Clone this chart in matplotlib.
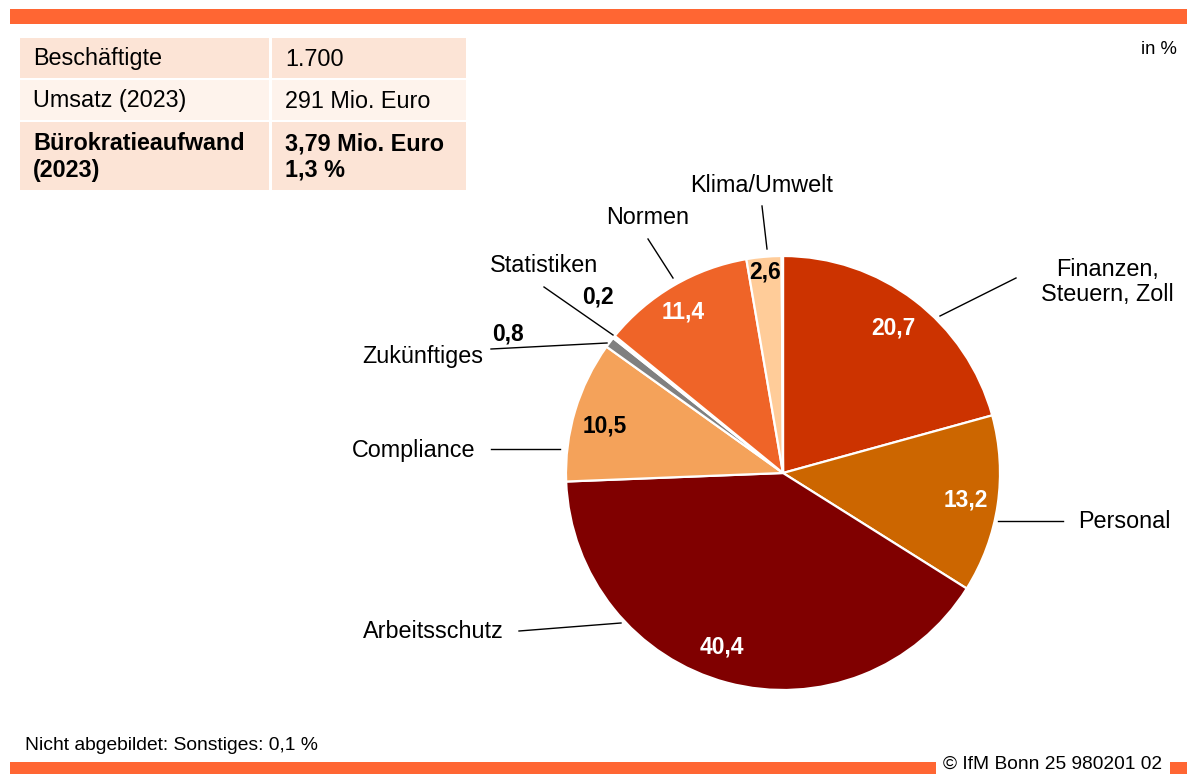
import numpy as np
import matplotlib as mpl
mpl.use('Agg')
import matplotlib.pyplot as plt
from matplotlib.patches import Rectangle

plt.rcParams['font.family'] = ['Liberation Sans', 'DejaVu Sans']

W, H = 1187, 774
ORANGE = '#FF6633'

# shares in %, clockwise from 12 o'clock (Sonstiges is not shown)
categories = ['Finanzen,\nSteuern, Zoll', 'Personal', 'Arbeitsschutz', 'Compliance',
              'Zukünftiges', 'Statistiken', 'Normen', 'Klima/Umwelt', 'Sonstiges']
shares = [20.7, 13.2, 40.4, 10.5, 0.8, 0.2, 11.4, 2.6, 0.1]
value_labels = ['20,7', '13,2', '40,4', '10,5', '0,8', '0,2', '11,4', '2,6', '']
colors = ['#CC3300', '#CC6600', '#800000', '#F4A25A', '#808080',
          '#FFFFFF', '#EF6428', '#FFCC99', '#FFFFFF']

table_keys = ['Beschäftigte', 'Umsatz (2023)', 'Bürokratieaufwand\n(2023)']
table_vals = ['1.700', '291 Mio. Euro', '3,79 Mio. Euro\n1,3 %']

FS = 16.8
VFS = 16.4


def main():
    fig = plt.figure(figsize=(W / 100, H / 100), dpi=100)

    # pie axes, centre (783, 473) px, radius 217 px
    cx, cy, r = 783, 473, 217
    pax = fig.add_axes([(cx - r) / W, (H - cy - r) / H, 2 * r / W, 2 * r / H])
    wedges, _ = pax.pie(shares, colors=colors, startangle=90, counterclock=False,
                        wedgeprops=dict(edgecolor='white', linewidth=1.6))
    pax.set_xlim(-1, 1)
    pax.set_ylim(-1, 1)
    pax.axis('off')

    # value labels inside the slices: (distance, angle shift in deg, colour)
    inside = {0: (0.84, 0, 'white'), 1: (0.85, 0, 'white'), 2: (0.85, -4.5, 'white'),
              3: (0.85, 2, 'black'), 6: (0.87, 1.5, 'white'), 7: (0.93, 0, 'black')}
    for i, (dist, shift, tc) in inside.items():
        w = wedges[i]
        mid = np.deg2rad((w.theta1 + w.theta2) / 2 + shift)
        pax.text(dist * np.cos(mid), dist * np.sin(mid), value_labels[i],
                 ha='center', va='center', fontsize=VFS, fontweight='bold', color=tc)

    # overlay in pixel coordinates
    ax = fig.add_axes([0, 0, 1, 1])
    ax.set_xlim(0, W)
    ax.set_ylim(H, 0)
    ax.axis('off')

    ax.add_patch(Rectangle((10, 9), W - 10, 15, color=ORANGE, lw=0))
    ax.add_patch(Rectangle((10, 762), 926, 12, color=ORANGE, lw=0))
    ax.add_patch(Rectangle((1170, 762), 17, 12, color=ORANGE, lw=0))

    # info table
    rows = [(38, 40, '#FCE4D6'), (80, 40, '#FEF3EC'), (122, 68, '#FCE4D6')]
    for i, (y0, h, c) in enumerate(rows):
        ax.add_patch(Rectangle((20, y0), 249, h, color=c, lw=0))
        ax.add_patch(Rectangle((272, y0), 194, h, color=c, lw=0))
        wt = 'bold' if i == 2 else 'normal'
        ax.text(33, y0 + h / 2 + 1, table_keys[i], ha='left', va='center',
                fontsize=FS, fontweight=wt, linespacing=1.2)
        ax.text(285, y0 + h / 2 + 1, table_vals[i], ha='left', va='center',
                fontsize=FS, fontweight=wt, linespacing=1.2)

    # category labels with leader lines
    cat_pos = {0: (1107, 282), 1: (1124, 522), 2: (433, 632), 3: (414, 451),
               4: (423, 357), 5: (544, 266), 6: (648, 218), 7: (762, 185)}
    leaders = {0: ((940, 316), (1016, 278)), 1: ((998, 521), (1063, 521)),
               2: ((519, 631), (621, 623)), 3: ((491, 449), (560, 449)),
               4: ((491, 349), (607, 343)), 5: ((544, 287), (613, 335)),
               6: ((648, 239), (673, 278)), 7: ((762, 206), (767, 249))}
    for i, (x, y) in cat_pos.items():
        ax.text(x, y, categories[i], ha='center', va='center', fontsize=FS,
                linespacing=1.15)
        (x0, y0), (x1, y1) = leaders[i]
        ax.plot([x0, x1], [y0, y1], color='black', lw=1.0)

    # small slices labelled outside
    ax.text(508, 334, value_labels[4], ha='center', va='center', fontsize=VFS,
            fontweight='bold')
    ax.text(598, 297, value_labels[5], ha='center', va='center', fontsize=VFS,
            fontweight='bold')

    ax.text(1177, 49, 'in %', ha='right', va='center', fontsize=13.3)
    ax.text(25, 745, 'Nicht abgebildet: Sonstiges: 0,1 %', ha='left', va='center',
            fontsize=13.9)
    ax.text(1053, 773, '© IfM Bonn 25 980201 02', ha='center', va='bottom',
            fontsize=13.8)

    fig.savefig('out.png', dpi=100)


if __name__ == '__main__':
    main()
